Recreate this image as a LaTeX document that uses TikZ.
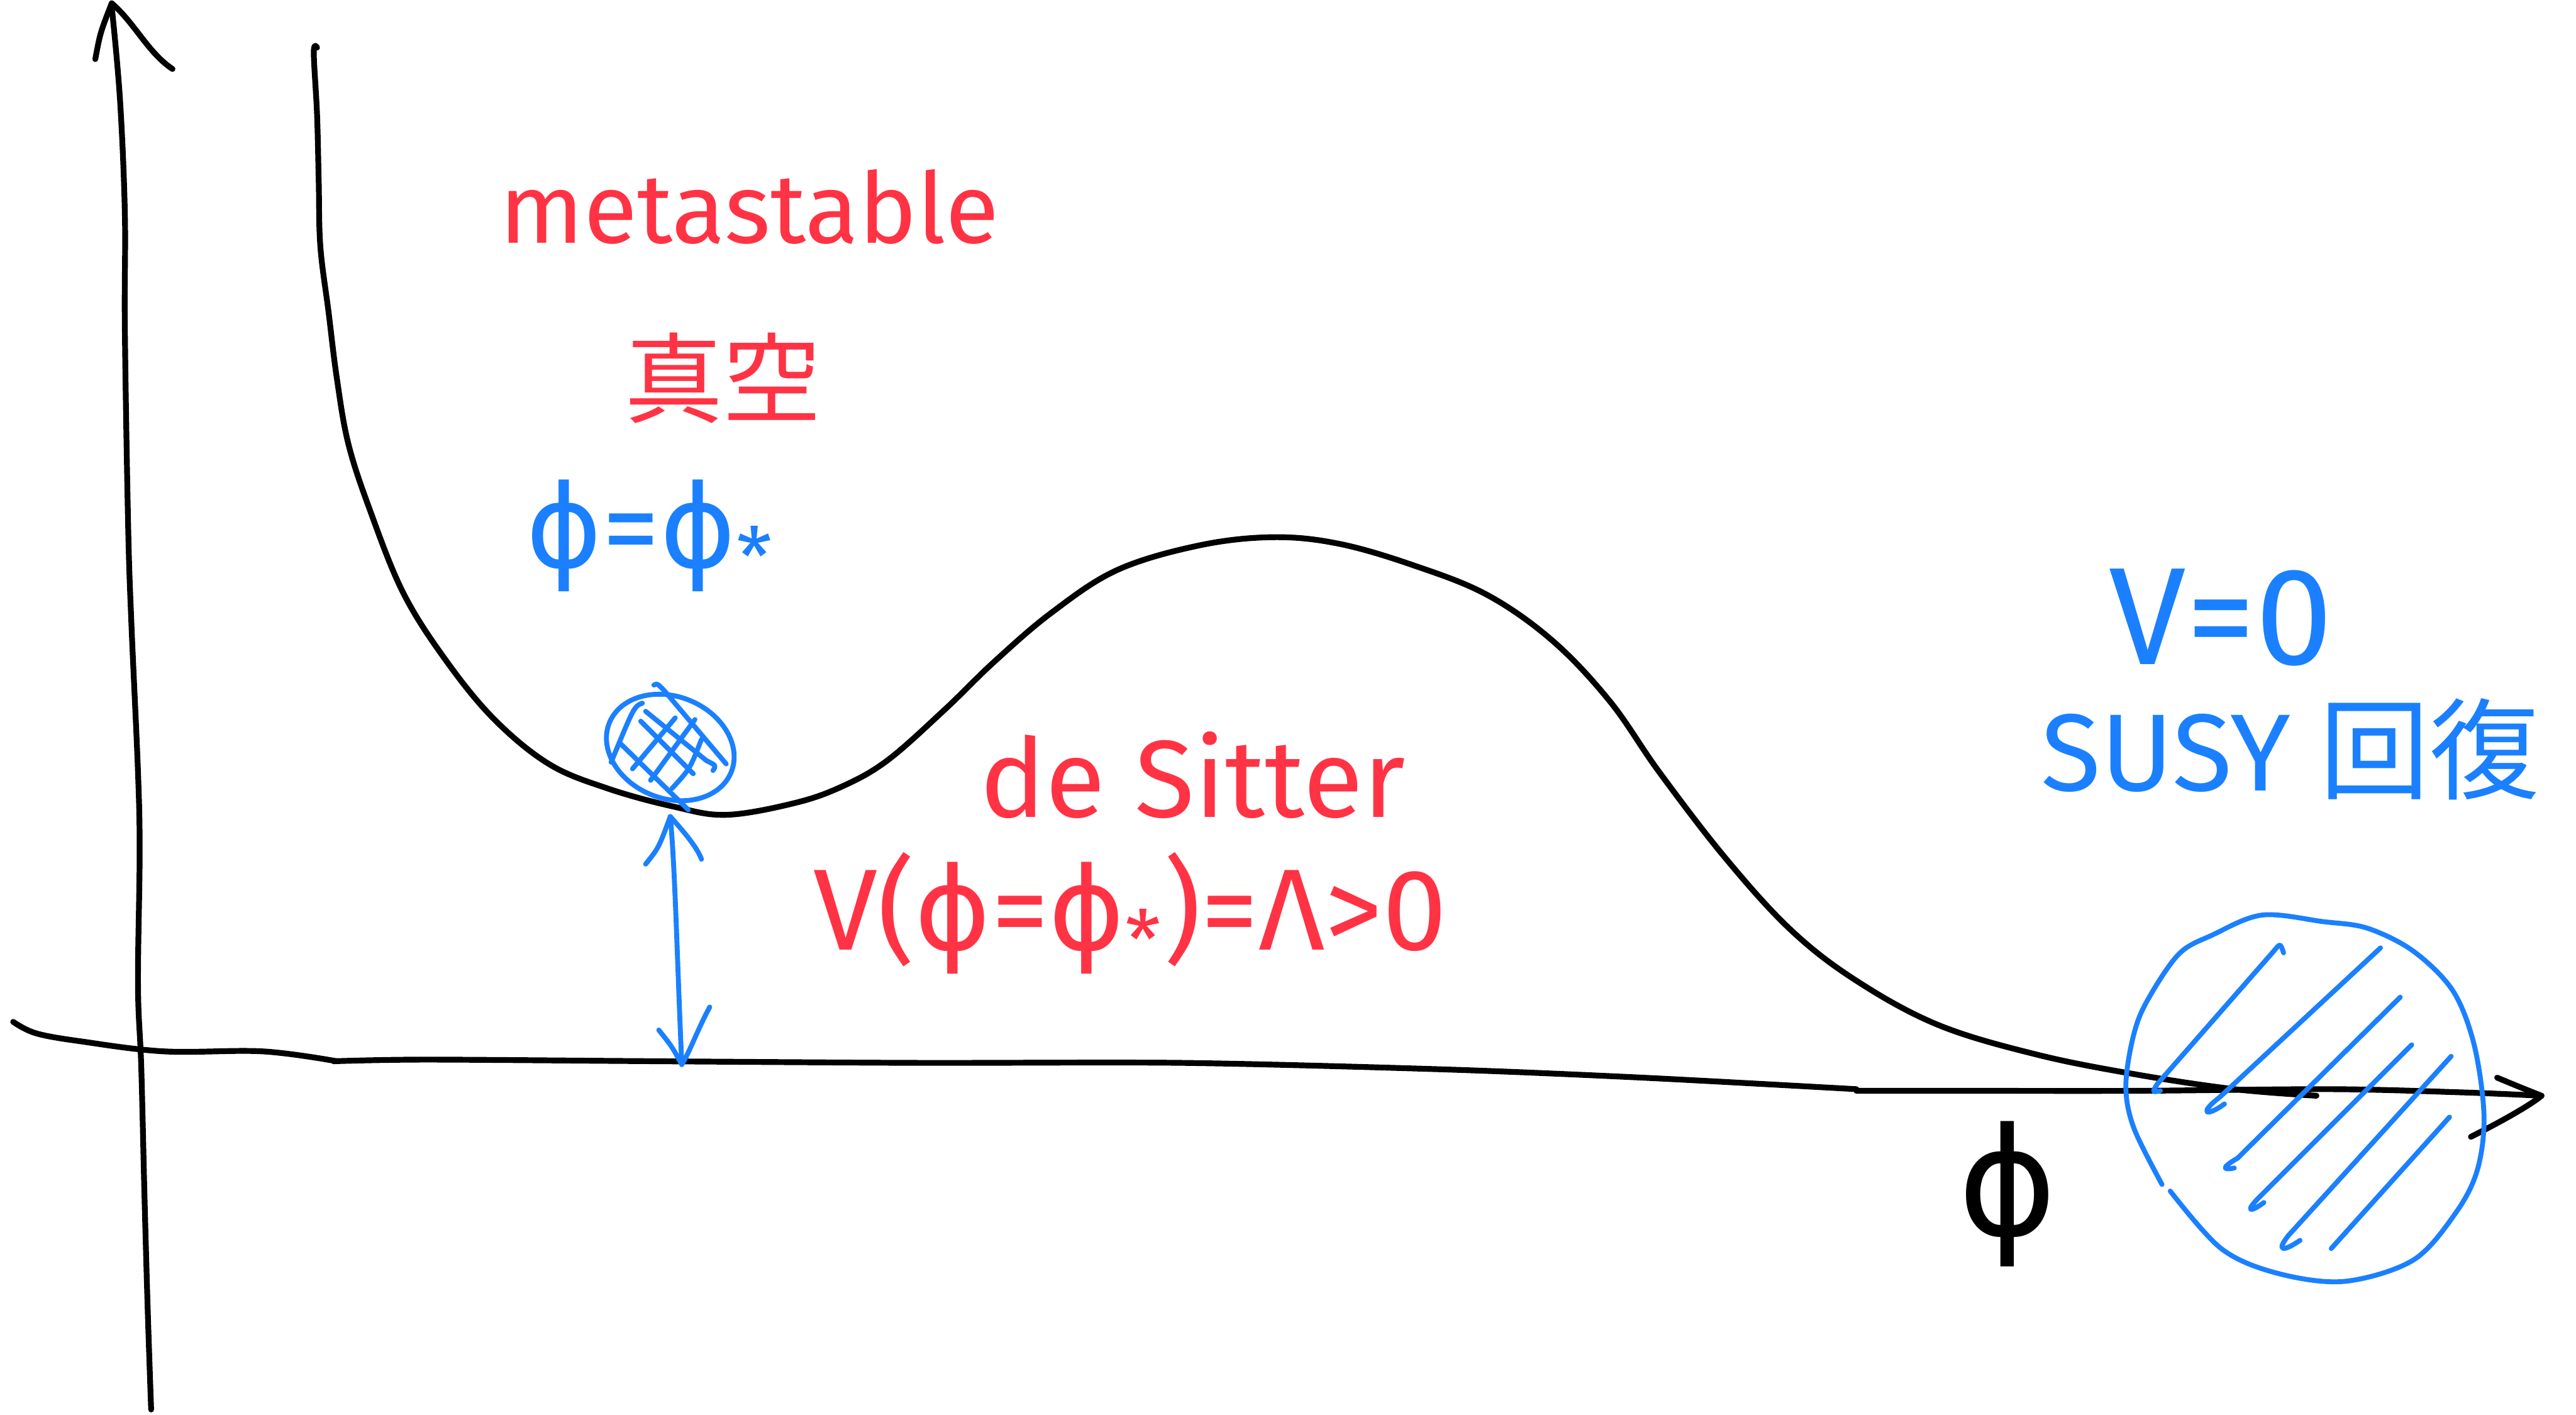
\documentclass[tikz,border=0pt]{standalone}
\usepackage{fontspec}
\setmainfont{Fira Sans}
\newfontfamily\cjk{Noto Sans CJK JP}
\newfontfamily\dvs{DejaVu Sans}
\newcommand{\myphi}{{\dvs ϕ}}
\definecolor{hred}{HTML}{FF3344}
\definecolor{hblue}{HTML}{1A80FF}
\tikzset{
  ink/.style={black, line width=1.0pt, line cap=round, line join=round},
  blueink/.style={hblue, line width=0.85pt, line cap=round, line join=round},
  redtxt/.style={text=hred, inner sep=0pt, anchor=center},
  bluetxt/.style={text=hblue, inner sep=0pt, anchor=center},
  blacktxt/.style={text=black, inner sep=0pt, anchor=center}
}
\begin{document}
\begin{tikzpicture}[x=0.01cm, y=-0.01cm]
\useasboundingbox (0,0) rectangle (1568,861);
\fill[white] (0,0) rectangle (1568,861);

% ---- vertical axis ----
\coordinate (ybot) at (92,858);
\coordinate (ytip) at (68,2);
\draw[ink] plot[smooth, tension=0.6] coordinates {(92,858) (90,800) (88,730) (86,650) (84,600) (85,520) (84,470) (80,380) (78,320) (76,200) (76,130) (73,60) (68,4)};
\draw[ink] (58,36) .. controls (61,20) .. (ytip);
\draw[ink] (ytip) .. controls (82,14) and (90,32) .. (105,42);

% ---- horizontal axis ----
\coordinate (xtip) at (1547,667);
\draw[ink] plot[smooth, tension=0.6] coordinates {(8,622) (22,629) (50,634) (100,640) (160,640) (205,646)};
\draw[ink] plot[smooth, tension=0.5] coordinates {(203,646) (260,645) (400,646) (560,647) (720,647) (880,651) (1000,656) (1130,663)};
\draw[ink] plot[smooth, tension=0.5] coordinates {(1130,664) (1200,664) (1300,664) (1420,663) (1500,665) (xtip)};
\draw[ink] (1520,656) .. controls (1532,661) .. (xtip);
\draw[ink] (xtip) .. controls (1540,673) and (1520,684) .. (1504,692);

% ---- potential curve ----
\draw[ink] plot[smooth, tension=0.6] coordinates {(193,29) (191,32) (193,70) (194,110) (195,150) (200,190) (205,230) (212,270) (225,310) (245,360) (270,400) (300,437) (334,465) (370,480) (410,491) (442,496) (483,489) (512,479) (540,463) (575,432) (605,403) (640,373) (680,347) (730,332) (775,327) (815,331) (860,344) (905,362) (945,390) (980,427) (1010,470) (1050,522) (1090,566) (1130,597) (1180,624) (1240,642) (1300,654) (1360,663) (1410,667)};

% ---- ball at metastable minimum ----
\draw[blueink, rotate around={-22:(408,455)}] (408,455) ellipse [x radius=40, y radius=31];
\draw[blueink] (393,433) -- (430,463) .. controls (436,466) .. (434,469);
\draw[blueink] (390,439) -- (422,471);
\draw[blueink] (377,452) -- (419,493);
\draw[blueink] (398,417) .. controls (400,416) .. (404,420) -- (442,465);
\draw[blueink] (385,468) -- (411,437);
\draw[blueink] (396,475) -- (423,438);
\draw[blueink] (409,480) .. controls (420,468) .. (427,450);
\draw[blueink] (391,428) .. controls (386,430) .. (372,464);

% ---- double arrow (height of the dS vacuum) ----
\coordinate (btop) at (408,497);
\coordinate (bbot) at (415,648);
\draw[blueink] (btop) .. controls (411,530) and (412,580) .. (bbot);
\draw[blueink] (393,526) .. controls (401,516) .. (btop) .. controls (415,505) and (424,515) .. (427,523);
\draw[blueink] (401,627) .. controls (409,637) .. (bbot) .. controls (420,640) and (424,628) .. (432,613);

% ---- hatched blob at V=0 ----
\draw[blueink] plot[smooth, tension=0.55] coordinates {(1316,721) (1299,687) (1294,662) (1298,633) (1306,611) (1326,581) (1347,569) (1377,557) (1414,561) (1441,565) (1469,579) (1493,603) (1506,636) (1512,679) (1508,712) (1495,738) (1469,767) (1427,780) (1386,775) (1352,760) (1321,725)};
\draw[blueink] (1390,580) .. controls (1388,574) .. (1384,579) -- (1313,660) .. controls (1310,665) .. (1315,664);
\draw[blueink] (1449,577) -- (1351,668) .. controls (1338,678) and (1343,680) .. (1354,672);
\draw[blueink] (1461,607) -- (1362,705) .. controls (1350,712) and (1355,712) .. (1360,711);
\draw[blueink] (1468,636) -- (1375,729) .. controls (1366,738) and (1370,738) .. (1378,732);
\draw[blueink] (1492,643) -- (1393,752) .. controls (1385,762) and (1390,762) .. (1400,755);
\draw[blueink] (1491,680) -- (1419,760);

% ---- texts ----
\node[redtxt, font=\fontsize{17}{20}\selectfont] (meta) at (456,126) {metastable};
\node[redtxt, font=\cjk\fontsize{17}{20}\selectfont] (shinku) at (440,230) {真空};
\node[bluetxt, font=\fontsize{20}{24}\selectfont] (phistar) at (396,326) {\myphi=\myphi\textsubscript{*}};
\node[redtxt, font=\fontsize{19}{22}\selectfont] (dS) at (726,472) {de Sitter};
\node[redtxt, font=\fontsize{20}{24}\selectfont] (Vlam) at (688,556) {V(\myphi=\myphi\textsubscript{*})=Λ>0};
\node[bluetxt, font=\fontsize{24}{28}\selectfont] (V0) at (1352,376) {V=0};
\node[bluetxt, font=\fontsize{19}{22}\selectfont] (susy) at (1394,456) {SUSY {\cjk 回復}};
\node[blacktxt, font=\fontsize{26}{30}\selectfont] (phiaxis) at (1222,727) {\myphi};
\end{tikzpicture}
\end{document}
